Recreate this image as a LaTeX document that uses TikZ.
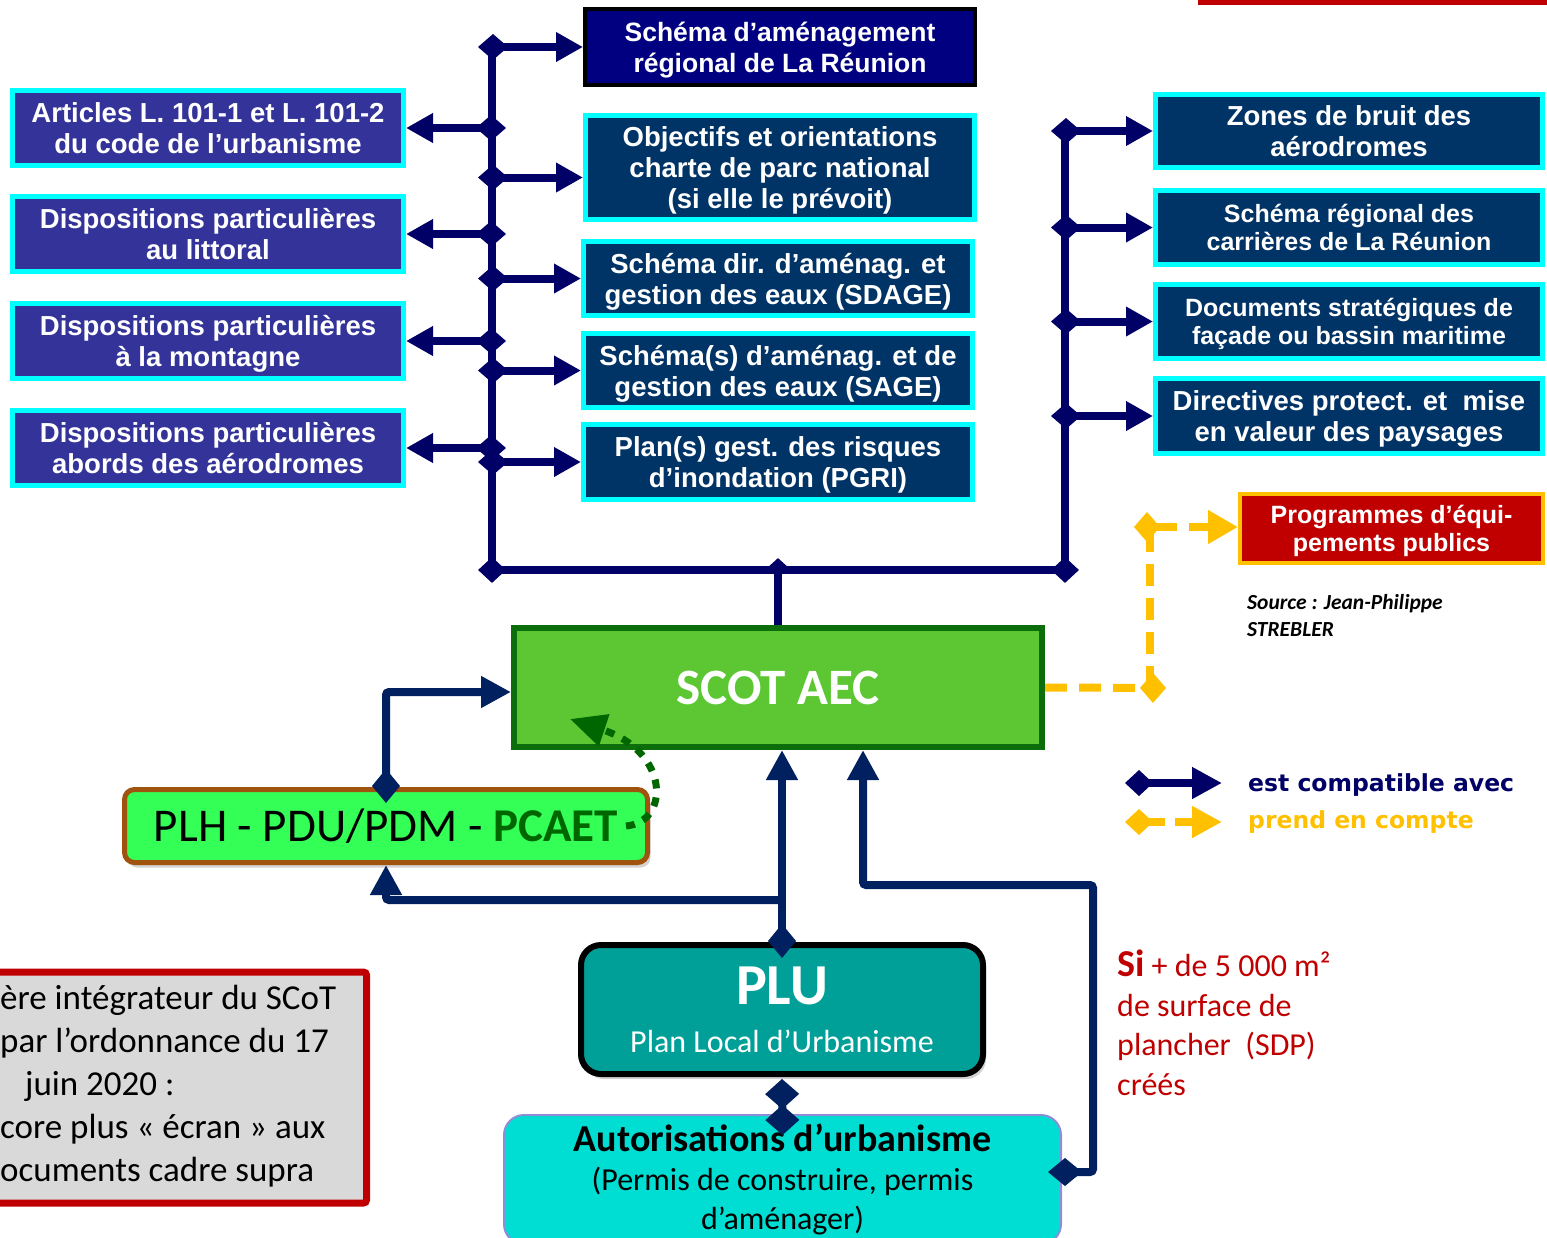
\documentclass[tikz,border=0pt]{standalone}
\usepackage{fontspec}
\setmainfont{Liberation Sans}
\newfontfamily\calibri{Carlito}
\newfontfamily\verd{DejaVu Sans}
\usepackage{tikz}
\usetikzlibrary{positioning,calc,arrows.meta,shapes.geometric,shadows}

\definecolor{cyanb}{HTML}{00FFFF}
\definecolor{indigo}{HTML}{333399}
\definecolor{navybox}{HTML}{003366}
\definecolor{navydark}{HTML}{000080}
\definecolor{busblue}{HTML}{000066}
\definecolor{linkblue}{HTML}{002060}
\definecolor{scotgreen}{HTML}{5CC733}
\definecolor{scotedge}{HTML}{0B6E0B}
\definecolor{plhgreen}{HTML}{33FF57}
\definecolor{plhedge}{HTML}{A0520F}
\definecolor{pcaetgreen}{HTML}{006600}
\definecolor{pluteal}{HTML}{00A099}
\definecolor{autocyan}{HTML}{00DDD3}
\definecolor{autoedge}{HTML}{8E8ED8}
\definecolor{redbox}{HTML}{C00000}
\definecolor{yellowl}{HTML}{FFC000}
\definecolor{greybox}{HTML}{D9D9D9}

\tikzset{
  basebox/.style={rectangle, inner sep=0pt, align=center, text=white, text depth=0pt, font=\bfseries\fontsize{27.5}{31}\selectfont},
  leftbox/.style={basebox, draw=cyanb, line width=5pt, fill=indigo, minimum width=391pt, minimum height=75pt},
  midbox/.style={basebox, draw=cyanb, line width=5pt, fill=navybox, minimum width=389pt, minimum height=74pt},
  rightbox/.style={basebox, draw=cyanb, line width=5pt, fill=navybox, minimum width=387pt, minimum height=74pt},
  smalltext/.style={font=\bfseries\fontsize{25}{28}\selectfont},
  bus/.style={draw=busblue, line width=8pt, line join=miter},
  branch/.style={bus, {Diamond[length=30pt,width=26pt]}-{Triangle[length=27pt,width=28pt]}},
  busdia/.style={diamond, fill=busblue, inner sep=0pt, minimum width=28pt, minimum height=26pt},
  link/.style={draw=linkblue, line width=8pt, rounded corners=3pt},
  linkarrow/.style={link, {Diamond[length=34pt,width=28pt]}-{Triangle[length=30pt,width=30pt]}},
  ydash/.style={draw=yellowl, line width=8pt, dash pattern=on 22pt off 12pt},
  gdot/.style={draw=pcaetgreen, line width=7pt, dash pattern=on 9pt off 9pt, -{Triangle[length=36pt,width=32pt]}},
}

\begin{document}
\begin{tikzpicture}[x=1pt, y=-1pt]
  \useasboundingbox (0,0) rectangle (1547,1237);

  % Cut frame top right
  \draw[redbox, line width=5pt] (1200,-60) rectangle (1600,2);

  % Left column
  \node[leftbox] (art) at (208,128) {Articles L. 101-1 et L. 101-2\\du code de l’urbanisme};
  \node[leftbox] (litt) at (208,234) {Dispositions particulières\\au littoral};
  \node[leftbox] (mont) at (208,341) {Dispositions particulières\\à la montagne};
  \node[leftbox] (aero) at (208,448) {Dispositions particulières\\abords des aérodromes};

  % Middle column
  \node[midbox, draw=black, line width=4pt, fill=navydark, minimum width=390pt, minimum height=76pt,
        font=\bfseries\fontsize{26.5}{31}\selectfont] (sar) at (780,47) {Schéma d’aménagement\\régional de La Réunion};
  \node[midbox, minimum height=104pt] (obj) at (780,167.5) {Objectifs et orientations\\charte de parc national\\(si elle le prévoit)};
  \node[midbox] (sdage) at (778,278.5) {Schéma dir. d’aménag. et\\gestion des eaux (SDAGE)};
  \node[midbox] (sage) at (778,370.5) {Schéma(s) d’aménag. et de\\gestion des eaux (SAGE)};
  \node[midbox, minimum height=75pt] (pgri) at (778,462) {Plan(s) gest. des risques\\d’inondation (PGRI)};

  % Right column
  \node[rightbox, minimum height=73pt] (bruit) at (1349,131) {Zones de bruit des\\aérodromes};
  \node[rightbox, smalltext] (carr) at (1349,227.5) {Schéma régional des\\carrières de La Réunion};
  \node[rightbox, smalltext] (docs) at (1349,321.5) {Documents stratégiques de\\façade ou bassin maritime};
  \node[rightbox, minimum height=75pt] (dir) at (1349,416) {Directives protect. et~ mise\\en valeur des paysages};

  % Programmes
  \node[basebox, draw=yellowl, line width=4pt, fill=redbox, minimum width=303pt, minimum height=69pt,
        font=\bfseries\fontsize{25}{28}\selectfont] (prog) at (1391.5,528.5) {Programmes d’équi-\\pements publics};
  \node[anchor=north west, align=left, inner sep=0pt, font=\calibri\bfseries\itshape\fontsize{21.5}{27}\selectfont] (src) at (1247,594) {Source : Jean-Philippe\\STREBLER};

  % Bus
  \coordinate (ltop) at (492,45);
  \coordinate (lbot) at (492,570);
  \coordinate (rbot) at (1065,570);
  \coordinate (rtop) at (1065,130);
  \draw[bus] (ltop) -- (lbot) -- (rbot) -- (rtop);
  \node[busdia] (dlb) at (lbot) {};
  \node[busdia] (drb) at (rbot) {};

  \draw[branch] ($(sar.west -| ltop)+(-14,0)$) -- (sar.west);
  \draw[branch] ($(obj.west -| ltop)+(-14,10)$) -- ($(obj.west)+(0,10)$);
  \draw[branch] ($(sdage.west -| ltop)+(-14,0)$) -- (sdage.west);
  \draw[branch] ($(sage.west -| ltop)+(-14,0)$) -- (sage.west);
  \draw[branch] ($(pgri.west -| ltop)+(-14,0)$) -- (pgri.west);

  \draw[branch] ($(art.east -| ltop)+(14,0)$) -- (art.east);
  \draw[branch] ($(litt.east -| ltop)+(14,0)$) -- (litt.east);
  \draw[branch] ($(mont.east -| ltop)+(14,0)$) -- (mont.east);
  \draw[branch] ($(aero.east -| ltop)+(14,0)$) -- (aero.east);

  \draw[branch] ($(bruit.west -| rtop)+(-14,0)$) -- (bruit.west);
  \draw[branch] ($(carr.west -| rtop)+(-14,0)$) -- (carr.west);
  \draw[branch] ($(docs.west -| rtop)+(-14,0)$) -- (docs.west);
  \draw[branch] ($(dir.west -| rtop)+(-14,0)$) -- (dir.west);

  % SCOT
  \node[rectangle, draw=scotedge, line width=6pt, fill=scotgreen, minimum width=528pt, minimum height=119pt,
        text=white, font=\calibri\bfseries\fontsize{51}{51}\selectfont] (scot) at (778,687.5) {SCOT AEC};
  \draw[bus] (scot.north) -- (scot.north |- lbot);
  \node[busdia, minimum width=22pt, minimum height=20pt] (djn) at (778,568) {};

  % PLH
  \node[rectangle, rounded corners=10pt, draw=plhedge, line width=5pt, fill=plhgreen, minimum width=523pt, minimum height=73pt,
        font=\calibri\fontsize{47}{47}\selectfont,
        drop shadow={shadow xshift=3pt, shadow yshift=-5pt, opacity=0.35}] (plh) at (386,826)
        {PLH - PDU/PDM - \textcolor{pcaetgreen}{\bfseries PCAET}};
  \draw[linkarrow] ($(plh.north)+(0,16)$) |- (scot.west |- 0,692);
  \draw[gdot] ($(plh.east)+(-24,0)$) .. controls (670,822) and (670,752) .. (570,719);

  % PLU
  \node[rectangle, rounded corners=20pt, draw=black, line width=6pt, fill=pluteal, minimum width=402pt, minimum height=129pt,
        text=white, align=center, font=\calibri\fontsize{32}{39}\selectfont,
        drop shadow={shadow xshift=3pt, shadow yshift=-5pt, opacity=0.35}] (plu) at (782,1009.5)
        {{\fontsize{58}{58}\selectfont\bfseries PLU}\\[9pt]Plan Local d’Urbanisme};
  \draw[linkarrow] ($(plu.north)+(0,16)$) -- (plu.north |- scot.south);
  \draw[link, -{Triangle[length=30pt,width=30pt]}] (plu.north |- 0,900) -| (plh.south);

  % Autorisations
  \node[rectangle, rounded corners=20pt, draw=autoedge, line width=2pt, fill=autocyan, minimum width=557pt,
        anchor=north, inner ysep=9pt, align=center, font=\calibri\fontsize{32}{39}\selectfont] (auto) at (782.5,1114)
        {{\fontsize{38}{38}\selectfont\bfseries Autorisations d’urbanisme}\\(Permis de construire, permis\\d’aménager)};
  \draw[link, {Diamond[length=30pt,width=34pt]}-{Diamond[length=30pt,width=34pt]}] ($(plu.south)+(0,2)$) -- ($(auto.north)+(0,21)$);
  \draw[linkarrow] ($(auto.north east)+(-14,58)$) -| (1093,885) -| ($(scot.south)+(85,0)$);

  % Prend en compte
  \coordinate (ybot) at (1150,688);
  \coordinate (ytop) at (1150,527);
  \draw[ydash, -{Diamond[length=26pt,width=30pt]}] (scot.east) -- ($(ybot)+(16,0)$);
  \draw[ydash] (ybot) -- (ytop);
  \draw[ydash, {Diamond[length=26pt,width=30pt]}-{Triangle[length=30pt,width=32pt]}] ($(ytop)+(-16,0)$) -- (prog.west |- ytop);

  % Legend
  \node[anchor=west, inner sep=0pt, text=busblue, font=\verd\bfseries\fontsize{23.5}{23.5}\selectfont] (legc) at (1248,785) {est compatible avec};
  \node[anchor=west, inner sep=0pt, text=yellowl, font=\verd\bfseries\fontsize{23.5}{23.5}\selectfont] (legp) at (1248,822) {prend en compte};
  \coordinate (lg1) at (1125,783);
  \coordinate (lg2) at (1125,822);
  \draw[bus, {Diamond[length=28pt,width=26pt]}-{Triangle[length=30pt,width=30pt]}] (lg1) -- ($(legc.west)+(-26,-2)$);
  \draw[ydash, dash pattern=on 18pt off 10pt, {Diamond[length=28pt,width=26pt]}-{Triangle[length=30pt,width=30pt]}] (lg2) -- ($(legp.west)+(-26,0)$);

  % Si + de 5000 m2
  \node[anchor=north west, align=left, inner sep=0pt, text=redbox, font=\calibri\fontsize{32}{39.5}\selectfont] (sdp) at (1117,950)
        {{\fontsize{38}{38}\selectfont\bfseries Si} + de 5 000 m²\\de surface de\\plancher~ (SDP)\\créés};

  % Note box (cut)
  \node[rectangle, rounded corners=3pt, draw=redbox, line width=7pt, fill=greybox, minimum width=470pt, minimum height=231pt,
        anchor=north east] (note) at (370,968.5) {};
  \node[anchor=north west, align=left, inner sep=0pt, font=\calibri\fontsize{35}{43}\selectfont] (notetxt) at (0,985)
        {ère intégrateur du SCoT\\par l’ordonnance du 17\\\hspace*{25pt}juin 2020 :\\core plus « écran » aux\\ocuments cadre supra};
\end{tikzpicture}
\end{document}
